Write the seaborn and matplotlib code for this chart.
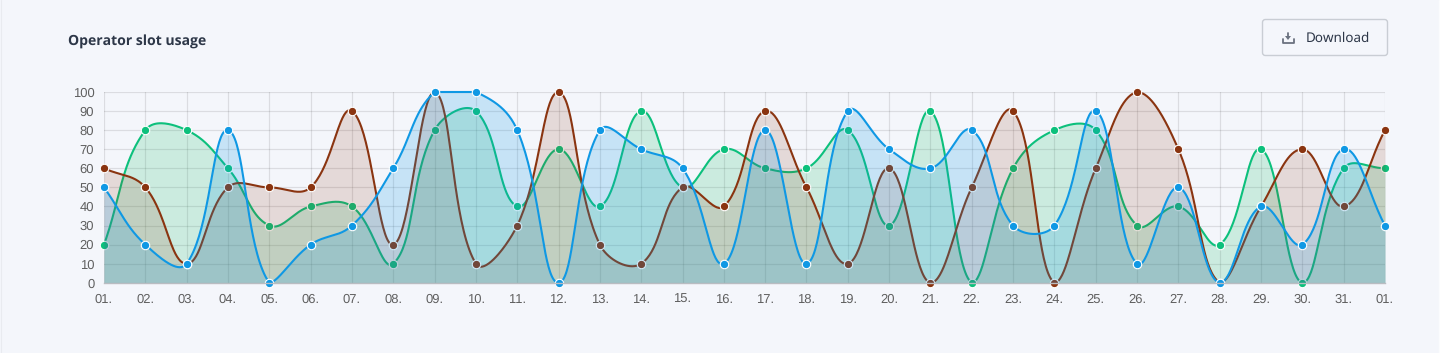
import numpy as np
import pandas as pd
import matplotlib
matplotlib.use("Agg")
import matplotlib.pyplot as plt
from matplotlib.patches import FancyBboxPatch, Polygon
from matplotlib.lines import Line2D
import seaborn as sns

day_labels = ["01.", "02.", "03.", "04.", "05.", "06.", "07.", "08.", "09.", "10.", "11.",
              "12.", "13.", "14.", "15.", "16.", "17.", "18.", "19.", "20.", "21.", "22.",
              "23.", "24.", "25.", "26.", "27.", "28.", "29.", "30.", "31.", "01."]
brown_values = [60, 50, 10, 50, 50, 50, 90, 20, 100, 10, 30, 100, 20, 10, 50, 40, 90, 50, 10, 60, 0,
                50, 90, 0, 60, 100, 70, 0, 40, 70, 40, 80]
green_values = [20, 80, 80, 60, 30, 40, 40, 10, 80, 90, 40, 70, 40, 90, 50, 70, 60, 60, 80, 30, 90,
                0, 60, 80, 80, 30, 40, 20, 70, 0, 60, 60]
blue_values = [50, 20, 10, 80, 0, 20, 30, 60, 100, 100, 80, 0, 80, 70, 60, 10, 80, 10, 90, 70, 60,
               80, 30, 30, 90, 10, 50, 0, 40, 20, 70, 30]
y_ticks = list(range(0, 101, 10))

BG = "#f4f6fb"
BROWN = "#8a3410"
GREEN = "#0cc07c"
BLUE = "#0f98e4"
FILL_GREEN = "#10b861"
W, H = 1440, 353
L, R, T, B = 104.0, 1385.0, 92.0, 282.8


def smooth(values, tension=0.4, n=40):
    """Chart.js style cubic spline evaluated in pixel space, control points capped to the chart area."""
    sx = (R - L) / (len(values) - 1)
    sy = (B - T) / 100.0
    xs = np.arange(len(values)) * sx
    ys = np.asarray(values, float) * sy
    top = 100 * sy
    c1, c2 = [], []
    for i in range(len(xs)):
        p = max(i - 1, 0)
        q = min(i + 1, len(xs) - 1)
        d01 = np.hypot(xs[i] - xs[p], ys[i] - ys[p])
        d12 = np.hypot(xs[q] - xs[i], ys[q] - ys[i])
        tot = d01 + d12
        fa = tension * d01 / tot
        fb = tension * d12 / tot
        dx, dy = xs[q] - xs[p], ys[q] - ys[p]
        c1.append((np.clip(xs[i] - fa * dx, 0, xs[-1]), np.clip(ys[i] - fa * dy, 0, top)))
        c2.append((np.clip(xs[i] + fb * dx, 0, xs[-1]), np.clip(ys[i] + fb * dy, 0, top)))
    out_x, out_y = [], []
    t = np.linspace(0, 1, n, endpoint=False)[:, None]
    for i in range(len(xs) - 1):
        p0 = np.array([xs[i], ys[i]])
        p1 = np.array(c2[i])
        p2 = np.array(c1[i + 1])
        p3 = np.array([xs[i + 1], ys[i + 1]])
        pts = (1 - t) ** 3 * p0 + 3 * (1 - t) ** 2 * t * p1 + 3 * (1 - t) * t ** 2 * p2 + t ** 3 * p3
        out_x.extend(pts[:, 0] / sx)
        out_y.extend(pts[:, 1] / sy)
    out_x.append(xs[-1] / sx)
    out_y.append(ys[-1] / sy)
    return np.array(out_x), np.array(out_y)


sns.set_theme(style="white")
plt.rcParams["font.family"] = ["Liberation Sans", "DejaVu Sans"]
plt.rcParams["text.hinting"] = "no_hinting"
plt.rcParams["text.hinting_factor"] = 1

fig = plt.figure(figsize=(W / 100, H / 100), dpi=100, facecolor=BG)
ax = fig.add_axes([L / W, 1 - B / H, (R - L) / W, (B - T) / H], facecolor=BG)

positions = np.arange(len(day_labels))
series = [("green", green_values, GREEN, FILL_GREEN, 0.175, 3),
          ("brown", brown_values, BROWN, BROWN, 0.15, 6),
          ("blue", blue_values, BLUE, BLUE, 0.2, 9)]
for name, values, color, fill, alpha, z in series:
    cx, cy = smooth(values)
    ax.fill_between(cx, 0, cy, color=fill, alpha=alpha, linewidth=0, zorder=z)
    sns.lineplot(x=cx, y=cy, color=color, linewidth=1.5, estimator=None, sort=False, ax=ax,
                 zorder=z + 0.1, clip_on=False)
    sns.scatterplot(x=positions, y=values, color=color, s=37, edgecolor="white", linewidth=0.8,
                    ax=ax, zorder=z + 0.2, clip_on=False, legend=False)

ax.set_xlim(0, len(day_labels) - 1)
ax.set_ylim(0, 100)
ax.set_xlabel("")
ax.set_ylabel("")
ax.set_xticks(positions)
ax.set_xticklabels(day_labels)
ax.set_yticks(y_ticks)
ax.grid(True, color="#000000", alpha=0.1, linewidth=0.9, zorder=1)
ax.set_axisbelow(True)
ax.tick_params(axis="x", length=6, width=0.9, color="#dcdde2", pad=2, labelsize=9.1, labelcolor="#5f5f5f")
ax.tick_params(axis="y", length=7, width=0.9, color="#dcdde2", pad=0, labelsize=9.1, labelcolor="#5f5f5f")
for s in ["top", "right", "left"]:
    ax.spines[s].set_visible(False)
ax.spines["bottom"].set_color("#b9bcc1")
ax.spines["bottom"].set_linewidth(1.0)
ax.spines["bottom"].set_zorder(12)

fig.text(68 / W, 1 - 42 / H, "Operator slot usage", ha="left", va="center", fontsize=10.2,
         family="Open Sans", weight="bold", color="#2d3748")

# download button
fig.add_artist(FancyBboxPatch((1262.5 / W, 1 - 55.5 / H), 125 / W, 36 / H, boxstyle="round,pad=0,rounding_size=0.002",
                              mutation_aspect=W / H, transform=fig.transFigure, facecolor=BG,
                              edgecolor="#c9cdd4", linewidth=1.0))
fig.text(1306 / W, 1 - 38 / H, "Download", ha="left", va="center", fontsize=9.7, family="Noto Sans",
         color="#2d3748")
icon = "#6b7280"
fig.add_artist(Line2D(np.array([1282.5, 1282.5, 1293.5, 1293.5]) / W,
                      1 - np.array([38.5, 43, 43, 38.5]) / H, color=icon, lw=1.3, transform=fig.transFigure))
fig.add_artist(Line2D(np.array([1288, 1288]) / W, 1 - np.array([32.5, 37]) / H, color=icon, lw=1.3,
                      transform=fig.transFigure))
fig.add_artist(Polygon(np.column_stack([np.array([1285, 1291, 1288]) / W, 1 - np.array([36, 36, 40]) / H]),
                       closed=True, facecolor=icon, edgecolor="none", transform=fig.transFigure))

# page edges
fig.add_artist(Line2D([0.5 / W, 0.5 / W], [0, 1], color="#e9ebf0", lw=0.8, transform=fig.transFigure))
fig.add_artist(Line2D([1438.5 / W, 1438.5 / W], [0, 1], color="#fbfcfe", lw=1.0, transform=fig.transFigure))

fig.savefig("out.png", dpi=100, facecolor=BG)
